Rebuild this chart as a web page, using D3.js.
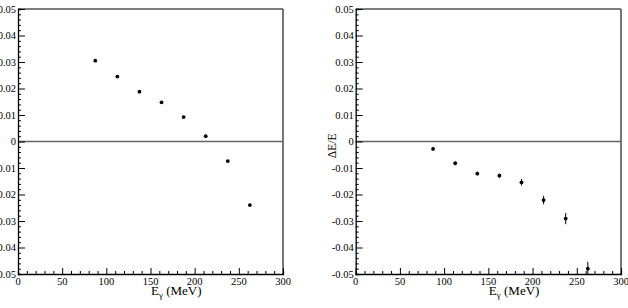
<!DOCTYPE html>
<html><head><meta charset="utf-8">
<script src="https://cdn.jsdelivr.net/npm/d3@7"></script>
<style>body{margin:0;background:#fff}svg{display:block}</style>
</head><body>
<svg id="c" width="628" height="308"></svg>
<script>
const energies = [87.5, 112.5, 137.5, 162.5, 187.5, 212.5, 237.5, 262.5];
const leftValues = [0.0305, 0.0245, 0.0188, 0.0148, 0.0092, 0.0020, -0.0074, -0.0240];
const rightValues = [-0.0028, -0.0082, -0.0121, -0.0129, -0.0154, -0.0221, -0.0291, -0.0480];
const rightErrors = [0.0004, 0.0005, 0.0007, 0.0008, 0.0012, 0.0016, 0.0021, 0.0026];
const xTicks = [0, 50, 100, 150, 200, 250, 300];
const yTicks = [-0.05, -0.04, -0.03, -0.02, -0.01, 0, 0.01, 0.02, 0.03, 0.04, 0.05];

const FONT = '"Liberation Serif", "Times New Roman", serif';
const svg = d3.select("#c");
const fmtY = d => d === 0 ? "0" : d3.format(".2f")(d).replace("−","-");

function panel(left, right, vals, errs, ytitle, id) {
  const top = 9, bottom = 274;
  const x = d3.scaleLinear().domain([0, 300]).range([left, right]);
  const y = d3.scaleLinear().domain([-0.05, 0.05]).range([bottom, top]);
  const g = svg.append("g");
  g.append("clipPath").attr("id", id).append("rect")
    .attr("x", left).attr("y", top).attr("width", right - left).attr("height", bottom - top);
  // frame top & right
  g.append("line").attr("x1", left).attr("x2", right).attr("y1", top).attr("y2", top)
    .attr("stroke", "#555").attr("stroke-width", 1.6);
  g.append("line").attr("x1", right).attr("x2", right).attr("y1", top).attr("y2", bottom)
    .attr("stroke", "#555").attr("stroke-width", 1.6);
  // zero line
  g.append("line").attr("x1", left).attr("x2", right).attr("y1", y(0)).attr("y2", y(0))
    .attr("stroke", "#666").attr("stroke-width", 1.4);
  // x axis
  const xa = g.append("g").attr("transform", `translate(0,${bottom})`)
    .call(d3.axisBottom(x).tickValues(d3.range(0, 301, 10)).tickSize(-3).tickFormat(""));
  xa.selectAll(".tick line").filter(d => d % 50 === 0).attr("y2", -6);
  xa.select(".domain").attr("stroke", "#000").attr("stroke-width", 1.3);
  g.selectAll(null).data(xTicks).join("text")
    .attr("x", d => x(d)).attr("y", bottom + 3.5).attr("dy", "0.71em")
    .attr("text-anchor", "middle").attr("font-size", 10.5)
    .style("font-family", FONT).text(d => d);
  // y axis
  const ya = g.append("g").attr("transform", `translate(${left},0)`)
    .call(d3.axisLeft(y).tickValues(d3.range(-50, 51, 2).map(v => v / 1000)).tickSize(-3).tickFormat(""));
  ya.selectAll(".tick line").filter(d => Math.abs(Math.round(d * 1000)) % 10 === 0).attr("x2", 7);
  ya.select(".domain").attr("stroke", "#000").attr("stroke-width", 1.3);
  g.selectAll(null).data(yTicks).join("text")
    .attr("x", left - 2).attr("y", d => y(d)).attr("dy", "0.35em")
    .attr("text-anchor", "end").attr("font-size", 10.5)
    .style("font-family", FONT).text(fmtY);
  // x title
  const t = g.append("text").attr("x", x(150) + 0.5).attr("y", 294.5).attr("font-size", 13)
    .style("font-family", FONT);
  t.append("tspan").text("E");
  t.append("tspan").attr("font-size", 9).attr("dy", 3).text("γ");
  t.append("tspan").attr("dy", -3).text(" (MeV)");
  if (ytitle) {
    g.append("text").attr("transform", `translate(${left - 19.5},${y(-0.0063)}) rotate(-90)`)
      .attr("text-anchor", "start").attr("font-size", 11.5)
      .style("font-family", FONT).text(ytitle);
  }
  // points
  const pts = g.append("g").attr("clip-path", `url(#${id})`);
  if (errs) {
    pts.selectAll("line.err").data(energies).join("line")
      .attr("x1", d => x(d)).attr("x2", d => x(d))
      .attr("y1", (d, i) => y(vals[i] - errs[i])).attr("y2", (d, i) => y(vals[i] + errs[i]))
      .attr("stroke", "#000").attr("stroke-width", 1);
  }
  pts.selectAll("circle").data(energies).join("circle")
    .attr("cx", d => x(d)).attr("cy", (d, i) => y(vals[i])).attr("r", 1.9).attr("fill", "#000");
}

panel(18, 283, leftValues, null, null, "clipL");
panel(355.7, 621, rightValues, rightErrors, "ΔE/E", "clipR");
</script>
</body></html>
